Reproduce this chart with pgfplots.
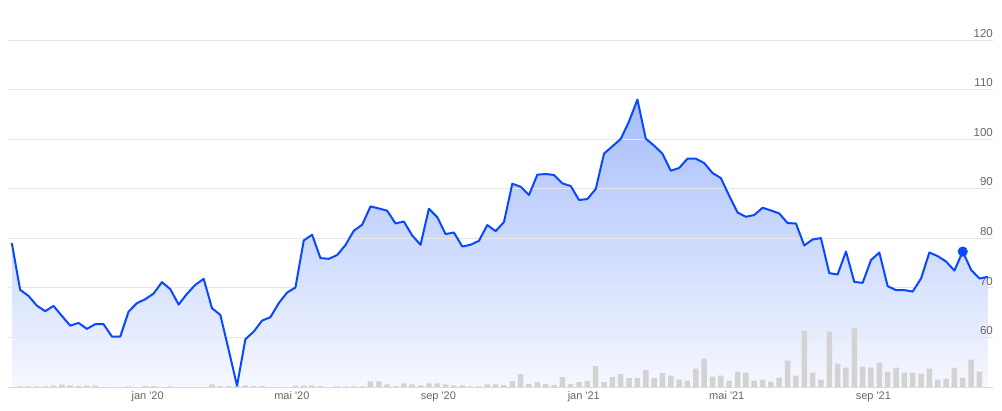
\documentclass[border=0pt]{standalone}
\usepackage{pgfplots}
\usepackage{pgfplotstable}
\pgfplotsset{compat=1.18}
\usepackage{fontspec}
\setmainfont{Liberation Sans}
\definecolor{linecol}{RGB}{8,72,255}
\definecolor{topfill}{RGB}{166,189,250}
\definecolor{botfill}{RGB}{246,248,255}
\definecolor{gridcol}{RGB}{230,230,230}
\definecolor{labcol}{RGB}{102,102,102}
\definecolor{barcol}{RGB}{211,211,211}
\definecolor{axiscol}{RGB}{216,220,230}
\pgfplotstableread{
x p v
-114 79.03 0
-107 69.60 0.7
-100 68.38 0.7
-93 66.42 0.7
-86 65.29 0.7
-79 66.36 1.5
-72 64.34 2.5
-65 62.38 1.7
-58 62.93 1.0
-51 61.72 1.3
-44 62.67 1.3
-37 62.67 0
-30 60.16 0
-23 60.16 0
-16 65.21 0.7
-9 66.91 0
-2 67.72 0.8
5 68.85 0.8
12 71.15 0
19 69.74 0.7
26 66.63 0
33 68.79 0
40 70.61 0
47 71.82 0
54 65.90 2.7
61 64.55 0.8
68 57.47 0.8
75 50.26 1.0
82 59.64 1.7
89 61.17 0.8
96 63.39 0.8
103 64.08 0
110 66.91 0
117 69.05 0
124 70.06 1.3
131 79.56 1.3
138 80.71 1.3
145 76.00 0.8
152 75.86 0
159 76.61 0.7
166 78.63 0.7
173 81.52 0.7
180 82.73 0.7
187 86.42 5.7
194 86.02 5.7
201 85.56 2.7
208 82.99 1.0
215 83.39 3.7
222 80.57 2.7
229 78.69 1.7
236 85.96 3.7
243 84.28 3.7
250 80.85 2.7
257 81.17 1.7
264 78.34 1.7
271 78.69 0.7
278 79.49 0.7
285 82.67 2.7
292 81.45 2.7
299 83.27 2.0
306 91.01 6.0
313 90.40 13.0
320 88.73 3.0
327 92.83 5.0
334 92.97 3.0
341 92.77 2.0
348 91.07 10.0
355 90.55 3.0
362 87.72 5.0
369 87.92 6.0
376 89.94 21.0
383 97.10 5.0
390 98.55 10.0
397 100.04 13.0
404 103.60 9.0
411 107.98 9.0
418 100.10 17.0
425 98.69 9.0
432 97.07 14.0
439 93.64 11.3
446 94.18 7.3
453 96.06 6.3
460 96.06 18.3
467 95.19 28.3
474 93.17 10.3
481 92.16 11.3
488 88.59 6.3
495 85.21 15.3
502 84.34 14.3
509 84.69 6.3
516 86.16 7.3
523 85.62 5.3
530 85.01 9.3
537 83.07 26.3
544 82.99 11.3
551 78.55 56.3
558 79.76 14.3
565 80.04 7.3
572 72.97 55.3
579 72.69 23.3
586 77.33 19.3
593 71.21 59.3
600 71.01 20.3
607 75.60 19.3
614 77.13 24.3
621 70.34 15.3
628 69.54 19.3
635 69.54 14.3
642 69.25 14.3
649 71.88 13.3
656 77.13 18.3
663 76.40 7.3
670 75.31 8.3
677 73.49 19.3
684 77.33 9.3
691 73.64 27.3
698 71.88 15.3
705 72.22 0
}\data
\begin{document}
\begin{tikzpicture}
\useasboundingbox (0,0) rectangle (1002pt,410pt);
\pgfplotsset{base/.style={scale only axis, width=985pt, height=347pt,
  xmin=-117.2, xmax=709.4, at={(8pt,23pt)}, anchor=south west}}
% axis 1: grid, labels, fill
\begin{axis}[base, ymin=50, ymax=120,
  axis on top,
  axis x line=bottom, axis y line*=right,
  x axis line style={draw=axiscol, line width=0.8pt, -},
  y axis line style={draw=none},
  major tick length=0pt,
  ytick={60,70,...,120},
  ymajorgrids, major grid style={draw=gridcol, line width=0.8pt},
  xtick={0,121,244,366,486,609},
  xticklabels={jan \textquotesingle20, mai \textquotesingle20, sep \textquotesingle20, jan \textquotesingle21, mai \textquotesingle21, sep \textquotesingle21},
  /pgf/number format/assume math mode=true,
  yticklabel pos=right,
  yticklabel style={font=\fontsize{11.5}{13}\selectfont, text=labcol, anchor=south east, inner sep=0pt, yshift=2.5pt},
  xticklabel style={font=\fontsize{11}{13}\selectfont, text=labcol, anchor=base, inner sep=0pt, yshift=-12.6pt},
]
\addplot[draw=none, top color=topfill, bottom color=botfill] table[x=x, y=p]{\data}
  -- (axis cs:705,50) -- (axis cs:-114,50) -- cycle;
\end{axis}
% axis 2: volume bars
\begin{axis}[base, ymin=0, ymax=347, hide axis]
\addplot[ybar, bar width=5.5pt, fill=barcol, draw=none] table[x=x, y=v]{\data};
\end{axis}
% axis 3: price line
\begin{axis}[base, ymin=50, ymax=120, hide axis]
\addplot[linecol, line width=2pt, line join=round] table[x=x, y=p]{\data};
\addplot[only marks, mark=*, mark size=4.8pt, color=linecol] coordinates {(684,77.33)};
\end{axis}
\end{tikzpicture}
\end{document}
